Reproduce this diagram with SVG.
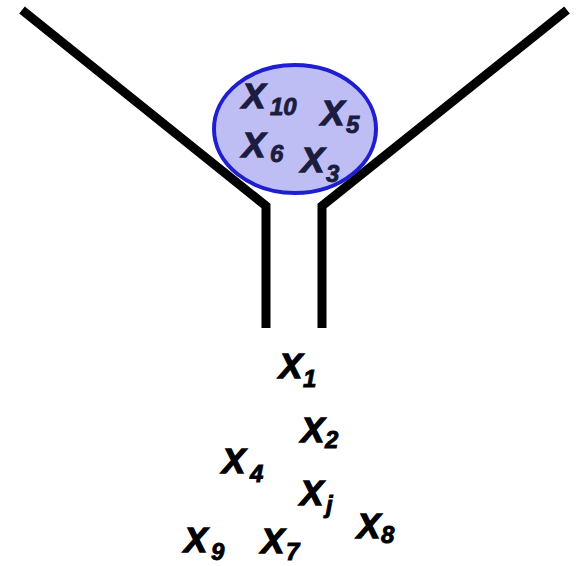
<svg xmlns="http://www.w3.org/2000/svg" width="585" height="566" viewBox="0 0 585 566">
<style>
.wall{fill:none;stroke:#000;stroke-width:9;stroke-linejoin:miter}
.lbl{font-family:"Liberation Sans",Arial,sans-serif;font-weight:bold;font-style:italic;font-size:35px;fill:#000;stroke:#000;stroke-width:1.3}
.in{fill:#1c1c40;stroke:#1c1c40}
.sub{font-size:24px;stroke-width:0.9}
</style>
<rect width="585" height="566" fill="#fff"/>
<g id="funnel">
<polyline class="wall" points="22,10 266,206 266,328"/>
<polyline class="wall" points="567,10 322,206 322,328"/>
</g>
<g id="bag">
<ellipse cx="295" cy="129" rx="81" ry="64" fill="#bebef4" stroke="#1f1fd0" stroke-width="4"/>
<text class="lbl in" x="242" y="108">X<tspan class="sub" x="270" y="115">10</tspan></text>
<text class="lbl in" x="321" y="125">X<tspan class="sub" x="346" y="133">5</tspan></text>
<text class="lbl in" x="242" y="157">X<tspan class="sub" x="270" y="162">6</tspan></text>
<text class="lbl in" x="301" y="172">X<tspan class="sub" x="326" y="182">3</tspan></text>
</g>
<g id="x1"><text class="lbl" x="279" y="378">X<tspan class="sub" x="303" y="387">1</tspan></text></g>
<g id="x2"><text class="lbl" x="301" y="442">X<tspan class="sub" x="325" y="448">2</tspan></text></g>
<g id="x4"><text class="lbl" x="222" y="473">X<tspan class="sub" x="250" y="482">4</tspan></text></g>
<g id="xj"><text class="lbl" x="300" y="505">X<tspan class="sub" x="326" y="513">j</tspan></text></g>
<g id="x8"><text class="lbl" x="357" y="538">X<tspan class="sub" x="381" y="543">8</tspan></text></g>
<g id="x9"><text class="lbl" x="184" y="552">X<tspan class="sub" x="211" y="560">9</tspan></text></g>
<g id="x7"><text class="lbl" x="261" y="553">X<tspan class="sub" x="286" y="560">7</tspan></text></g>
</svg>
